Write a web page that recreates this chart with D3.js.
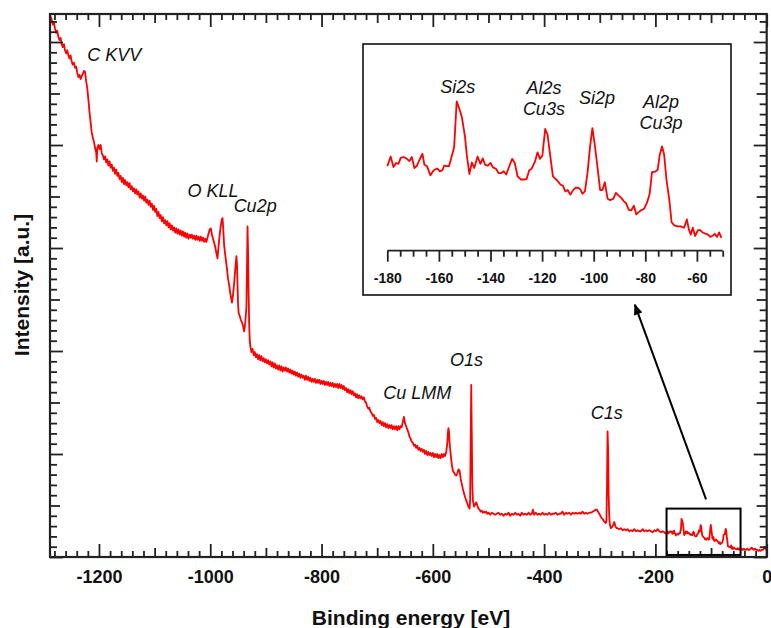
<!DOCTYPE html>
<html>
<head>
<meta charset="utf-8">
<script src="https://cdn.jsdelivr.net/npm/d3@7"></script>
<style>
  html, body { margin: 0; padding: 0; background: #ffffff; }
  svg { display: block; font-family: Arial, "Liberation Sans", Helvetica, sans-serif; }
</style>
</head>
<body>
<svg id="chart" width="771" height="628"></svg>
<script>
// XPS survey spectrum: [binding energy (eV, plotted negative), intensity (a.u.)]
const highEnergyTail = [
  [-1288,5.26],[-1285,5.22],[-1283,5.17],[-1281,5.19],[-1279,5.13],[-1277,5.09],[-1275,5.11],[-1273,5.05],
  [-1271,5.02],[-1269,5.04],[-1267,4.98],[-1265,4.95],[-1263,4.98],[-1261,4.92],[-1259,4.89],[-1257,4.92],
  [-1255,4.87],[-1253,4.84],[-1251,4.87],[-1249,4.81],[-1247,4.78],[-1245,4.80],[-1243,4.75],[-1241,4.76],
  [-1239,4.70],[-1237,4.66],[-1235,4.68],[-1233,4.64],[-1231,4.67],[-1229,4.69],[-1227,4.72],[-1225,4.71],
  [-1223,4.62],[-1221,4.55],[-1219,4.44],[-1217,4.32],[-1215,4.22],[-1213,4.12],[-1211,4.07],[-1209,4.03],
  [-1207,3.97],[-1205,3.93],[-1204,3.84],[-1203,3.97],[-1201,4.00],[-1199,3.96],[-1197,4.00],[-1195,3.92],
  [-1193,3.90],[-1191,3.86],[-1189,3.89],[-1187,3.83],[-1185,3.86],[-1183,3.80],[-1181,3.84],[-1179,3.78],
  [-1177,3.81],[-1175,3.75],[-1173,3.78],[-1171,3.72],[-1169,3.76],[-1167,3.70],[-1165,3.73],[-1163,3.67],
  [-1161,3.70],[-1159,3.64],[-1157,3.68],[-1155,3.62],[-1153,3.66],[-1151,3.61],[-1149,3.64],[-1147,3.59],
  [-1145,3.63],[-1143,3.57],[-1141,3.60],[-1139,3.55],[-1137,3.58],[-1135,3.53],[-1133,3.57],[-1131,3.52],
  [-1129,3.55],[-1127,3.49],[-1125,3.53],[-1123,3.48],[-1121,3.51],[-1119,3.46],[-1117,3.50],[-1115,3.44],
  [-1113,3.47],[-1111,3.42],[-1109,3.46],[-1107,3.40],[-1105,3.43],[-1103,3.37],[-1101,3.41],[-1099,3.35],
  [-1097,3.38],[-1095,3.31],[-1093,3.35],[-1091,3.29],[-1089,3.32],[-1087,3.26],[-1085,3.30],[-1083,3.24],
  [-1081,3.27],[-1079,3.22],[-1077,3.26],[-1075,3.20],[-1073,3.24],[-1071,3.18],[-1069,3.22],[-1067,3.17],
  [-1065,3.20],[-1063,3.15],[-1061,3.19],[-1059,3.14],[-1057,3.18],[-1055,3.13],[-1053,3.17],[-1051,3.12],
  [-1049,3.16],[-1047,3.11],[-1045,3.15],[-1043,3.10],[-1041,3.14],[-1039,3.09],[-1037,3.13],[-1035,3.10],
  [-1033,3.13],[-1031,3.09],[-1029,3.12],[-1027,3.08],[-1025,3.12],[-1023,3.08],[-1021,3.11],[-1019,3.07],
  [-1017,3.11],[-1015,3.07],[-1013,3.10],[-1011,3.06],[-1009,3.09],[-1007,3.06],[-1005,3.10]
];

// O KLL Auger and Cu 2p region, then the Cu 2p background plateau
const copperRegion = [
  [-1003,3.14],[-1001,3.18],[-999,3.19],[-997,3.13],[-995,3.09],[-993,3.05],[-991,3.01],[-989,2.95],
  [-987,2.90],[-985,3.02],[-983,3.13],[-981,3.22],[-979,3.28],[-978,3.29],[-977,3.22],[-975,3.02],
  [-973,2.93],[-970,2.80],[-968,2.70],[-966,2.64],[-964,2.56],[-962,2.50],[-961,2.47],[-959,2.55],
  [-957,2.66],[-955,2.80],[-953,2.92],[-952,2.85],[-951,2.65],[-950,2.45],[-949,2.37],[-947,2.34],
  [-945,2.30],[-943,2.28],[-941,2.24],[-939,2.19],[-937,2.28],[-935,2.43],[-934,2.80],[-933,3.21],
  [-932,2.95],[-931,2.53],[-930,2.25],[-929,2.10],[-928,2.05],[-926,1.99],[-924,2.02],[-922,1.96],
  [-920,1.99],[-918,1.94],[-916,1.97],[-914,1.92],[-912,1.96],[-910,1.91],[-908,1.95],[-906,1.90],
  [-904,1.93],[-902,1.89],[-900,1.92],[-898,1.88],[-896,1.91],[-894,1.87],[-892,1.90],[-890,1.85],
  [-888,1.89],[-886,1.84],[-884,1.88],[-882,1.83],[-880,1.86],[-878,1.82],[-876,1.86],[-874,1.81],
  [-872,1.85],[-870,1.80],[-868,1.84],[-866,1.81],[-864,1.84],[-862,1.80],[-860,1.83],[-858,1.79],
  [-856,1.82],[-854,1.78],[-852,1.81],[-850,1.77],[-848,1.80],[-846,1.76],[-844,1.79],[-842,1.75],
  [-840,1.78],[-838,1.74],[-836,1.77],[-834,1.74],[-832,1.76],[-830,1.72],[-828,1.76],[-826,1.72],
  [-824,1.75],[-822,1.71],[-820,1.74],[-818,1.70],[-816,1.73],[-814,1.70],[-812,1.73],[-810,1.69],
  [-808,1.72],[-806,1.69],[-804,1.72],[-802,1.68],[-800,1.71],[-798,1.68],[-796,1.71],[-794,1.67],
  [-792,1.70],[-790,1.67],[-788,1.70],[-786,1.66],[-784,1.69],[-782,1.66],[-780,1.69],[-778,1.65],
  [-776,1.68],[-774,1.65],[-772,1.68],[-770,1.64],[-768,1.68],[-766,1.64],[-764,1.67],[-762,1.63],
  [-760,1.66],[-758,1.62],[-756,1.64],[-754,1.60],[-752,1.63],[-750,1.59],[-748,1.62],[-746,1.58],
  [-744,1.61],[-742,1.57],[-740,1.59],[-738,1.55],[-736,1.58],[-734,1.54],[-732,1.57],[-730,1.54],
  [-728,1.56],[-726,1.53],[-724,1.55],[-722,1.51],[-720,1.50],[-718,1.46],[-716,1.44],[-714,1.45],
  [-712,1.41],[-710,1.40],[-708,1.37],[-706,1.38],[-704,1.34],[-702,1.35],[-700,1.31],[-698,1.33],
  [-696,1.30],[-694,1.32],[-692,1.28],[-690,1.31],[-688,1.27],[-686,1.30],[-684,1.26],[-682,1.29],
  [-680,1.25],[-678,1.28],[-676,1.25],[-674,1.28],[-672,1.24],[-670,1.27],[-668,1.24],[-666,1.27],
  [-664,1.23],[-662,1.27],[-660,1.24]
];

// Cu LMM Auger structure and O 1s
const oxygenRegion = [
  [-658,1.27],[-656,1.26],[-654,1.31],[-652,1.36],[-650,1.30],[-648,1.27],[-646,1.24],[-644,1.21],
  [-642,1.17],[-640,1.15],[-638,1.12],[-636,1.11],[-634,1.08],[-632,1.09],[-630,1.06],[-628,1.08],
  [-626,1.04],[-624,1.06],[-622,1.03],[-620,1.05],[-618,1.02],[-616,1.04],[-614,1.00],[-612,1.03],
  [-610,0.99],[-608,1.02],[-606,0.99],[-604,1.01],[-602,0.98],[-600,1.01],[-598,0.97],[-596,1.00],
  [-594,0.97],[-592,1.00],[-590,0.96],[-588,0.99],[-586,0.96],[-584,1.00],[-582,0.97],[-580,1.00],
  [-578,0.98],[-576,1.02],[-574,1.10],[-573,1.20],[-572,1.25],[-571,1.22],[-570,1.12],[-568,1.00],
  [-566,0.90],[-564,0.84],[-562,0.82],[-560,0.80],[-558,0.79],[-556,0.81],[-554,0.85],[-552,0.84],
  [-550,0.76],[-548,0.71],[-546,0.66],[-544,0.62],[-542,0.58],[-540,0.55],[-538,0.52],[-536,0.49],
  [-534,0.47],[-533,0.55],[-532,1.10],[-531,1.67],[-530,1.20],[-529,0.70],[-528,0.55],[-526,0.49],
  [-524,0.51],[-522,0.53],[-520,0.50],[-518,0.47],[-516,0.46],[-514,0.44],[-512,0.45],[-510,0.43],
  [-508,0.44],[-506,0.43],[-504,0.44],[-502,0.42],[-500,0.43],[-497,0.41],[-494,0.43],[-491,0.42],
  [-488,0.41],[-485,0.42]
];

// Flat background and C 1s
const carbonRegion = [
  [-482,0.43],[-479,0.41],[-476,0.42],[-473,0.40],[-470,0.42],[-467,0.41],[-464,0.43],[-461,0.40],
  [-458,0.42],[-455,0.41],[-452,0.43],[-449,0.41],[-446,0.42],[-443,0.40],[-440,0.43],[-437,0.41],
  [-434,0.42],[-431,0.41],[-428,0.43],[-425,0.41],[-422,0.42],[-420,0.46],[-418,0.41],[-415,0.43],
  [-412,0.41],[-409,0.42],[-406,0.41],[-403,0.43],[-400,0.41],[-397,0.42],[-394,0.41],[-391,0.43],
  [-388,0.41],[-385,0.42],[-382,0.42],[-379,0.43],[-376,0.41],[-373,0.42],[-370,0.42],[-367,0.44],
  [-364,0.41],[-361,0.43],[-358,0.42],[-355,0.43],[-352,0.41],[-349,0.43],[-346,0.42],[-343,0.43],
  [-340,0.42],[-337,0.43],[-334,0.42],[-331,0.44],[-328,0.42],[-325,0.43],[-322,0.42],[-319,0.43],
  [-316,0.43],[-313,0.44],[-310,0.45],[-307,0.46],[-305,0.46],[-303,0.44],[-301,0.42],[-299,0.40],
  [-297,0.38],[-295,0.37],[-293,0.35],[-291,0.34],[-289,0.33],[-288,0.36],[-287,0.70],[-286,1.22],
  [-285,1.05],[-284,0.60],[-283,0.40],[-282,0.32],[-280,0.28],[-278,0.29],[-276,0.31],[-274,0.34],
  [-272,0.30],[-270,0.28],[-268,0.28],[-265,0.27],[-262,0.28],[-259,0.26],[-256,0.27],[-253,0.26],
  [-250,0.27],[-247,0.25],[-244,0.26],[-241,0.25],[-238,0.27],[-235,0.25],[-232,0.26],[-229,0.25],
  [-226,0.25],[-223,0.27],[-220,0.25],[-217,0.26],[-214,0.25],[-211,0.26],[-208,0.25],[-205,0.24],
  [-202,0.26],[-199,0.25],[-196,0.27],[-193,0.25],[-190,0.24],[-187,0.25],[-184,0.24],[-182,0.23]
];

// Si 2s, Al 2s / Cu 3s, Si 2p, Al 2p / Cu 3p (shown enlarged in the inset)
const shallowCoreRegion = [
  [-180.0,0.229],[-178.7,0.250],[-177.6,0.227],[-176.6,0.236],[-175.7,0.234],[-174.8,0.247],[-173.7,0.249],
  [-172.4,0.245],[-171.4,0.240],[-170.5,0.249],[-169.5,0.225],[-168.5,0.230],[-167.5,0.243],[-166.4,0.256],
  [-165.6,0.232],[-164.6,0.229],[-163.3,0.209],[-162.0,0.220],[-160.7,0.224],[-159.6,0.218],[-158.7,0.220],
  [-158.0,0.230],[-157.0,0.229],[-156.1,0.229],[-155.2,0.247],[-154.1,0.270],[-153.1,0.370],[-152.2,0.356],
  [-151.1,0.336],[-149.9,0.294],[-149.2,0.254],[-148.2,0.212],[-147.2,0.237],[-146.3,0.225],[-145.0,0.250],
  [-143.9,0.234],[-143.0,0.246],[-142.1,0.232],[-141.0,0.230],[-140.0,0.236],[-139.1,0.227],[-137.8,0.223],
  [-136.9,0.214],[-135.8,0.214],[-134.9,0.218],[-133.9,0.211],[-132.5,0.232],[-131.6,0.245],[-130.6,0.236],
  [-129.5,0.207],[-128.2,0.200],[-126.9,0.200],[-126.0,0.201],[-125.0,0.220],[-124.1,0.223],[-122.7,0.240],
  [-121.8,0.259],[-120.8,0.245],[-119.9,0.252],[-118.8,0.310],[-117.9,0.298],[-116.9,0.254],[-115.8,0.207],
  [-114.2,0.198],[-112.9,0.189],[-112.0,0.187],[-111.0,0.174],[-110.1,0.177],[-109.0,0.167],[-108.0,0.177],
  [-107.1,0.182],[-106.0,0.182],[-105.1,0.178],[-104.4,0.169],[-103.4,0.174],[-102.4,0.214],[-101.4,0.272],
  [-100.5,0.312],[-99.6,0.276],[-98.6,0.230],[-97.5,0.177],[-96.6,0.177],[-95.7,0.194],[-94.6,0.158],
  [-93.6,0.155],[-92.4,0.158],[-91.4,0.171],[-90.3,0.165],[-89.3,0.160],[-88.4,0.153],[-87.5,0.149],
  [-86.4,0.134],[-85.4,0.133],[-84.4,0.143],[-83.5,0.124],[-82.6,0.129],[-81.6,0.133],[-80.5,0.136],
  [-79.3,0.150],[-78.3,0.169],[-77.4,0.216],[-76.2,0.217],[-75.2,0.221],[-74.4,0.254],[-73.5,0.272],
  [-72.7,0.254],[-71.8,0.200],[-70.7,0.156],[-69.8,0.107],[-68.8,0.100],[-67.5,0.098],[-66.3,0.098],
  [-65.0,0.095],[-63.9,0.113],[-63.1,0.091],[-62.4,0.080],[-61.6,0.095],[-60.7,0.077],[-59.6,0.090],
  [-58.7,0.090],[-57.6,0.084],[-56.7,0.082],[-55.7,0.080],[-54.8,0.075],[-53.7,0.078],[-53.1,0.082],
  [-52.2,0.075],[-51.4,0.085],[-50.5,0.073]
];

// Valence band edge down to the Fermi level
const valenceRegion = [
  [-49,0.08],[-47,0.07],[-45,0.08],[-43,0.07],[-41,0.08],[-39,0.07],[-37,0.07],[-35,0.08],
  [-33,0.07],[-31,0.07],[-29,0.08],[-27,0.09],[-25,0.08],[-23,0.07],[-21,0.08],[-19,0.07],
  [-17,0.07],[-15,0.06],[-13,0.07],[-11,0.06],[-9,0.07],[-7,0.07],[-5,0.08],[-3,0.10],
  [-1,0.07],[0,0.07]
];

// Axis tick values
const xMajorTicks = [-1200, -1000, -800, -600, -400, -200, 0];
const xMidTicks = [-1100, -900, -700, -500, -300, -100];
const insetMajorTicks = [-180, -160, -140, -120, -100, -80, -60];

// Peak annotations: label text and anchor point (energy, intensity)
const surveyLabels = [
  { text: "C KVV",  e: -1221, i: 4.82 },
  { text: "O KLL",  e: -1041, i: 3.50 },
  { text: "Cu2p",   e: -958,  i: 3.35 },
  { text: "Cu LMM", e: -689,  i: 1.53 },
  { text: "O1s",    e: -569,  i: 1.85 },
  { text: "C1s",    e: -316,  i: 1.34 }
];
const insetLabels = [
  { lines: ["Si2s"],         e: -152.7, i: 0.389 },
  { lines: ["Al2s", "Cu3s"], e: -119.3, i: 0.386 },
  { lines: ["Si2p"],         e: -98.7,  i: 0.364 },
  { lines: ["Al2p", "Cu3p"], e: -73.9,  i: 0.355 }
];

const survey = [].concat(highEnergyTail, copperRegion, oxygenRegion, carbonRegion,
                         shallowCoreRegion, valenceRegion);
const insetRange = [-180, -50];
const insetData = survey.filter(d => d[0] >= insetRange[0] && d[0] <= insetRange[1]);

// ---------- layout ----------
const ink = "#222222";
const lineRed = "#ff0000";
const fontFamily = 'Arial, "Liberation Sans", Helvetica, sans-serif';
const plot = { left: 50, right: 766.7, top: 14, bottom: 557 };

const svg = d3.select("#chart");

const x = d3.scaleLinear().domain([-1288, 0]).range([plot.left, plot.right]);
const y = d3.scaleLinear().domain([0, 5.272]).range([plot.bottom, plot.top]);

const xMinorTicks = d3.range(-1280, 0, 20).filter(v => v % 100 !== 0);
const yMajorTicks = d3.range(0, 6);
const yMidTicks = d3.range(0, 5).map(v => v + 0.5);
const yMinorTicks = d3.range(1, 53).filter(k => k % 5 !== 0).map(k => k / 10);

function tickRow(axis, tx, ty, values, size, fmt, pad, fontSize) {
  axis.tickValues(values).tickSizeInner(size).tickSizeOuter(0)
      .tickPadding(pad || 3).tickFormat(fmt || (() => ""));
  const g = svg.append("g").attr("transform", `translate(${tx},${ty})`).call(axis);
  g.select(".domain").remove();
  g.selectAll(".tick line").attr("stroke", ink).attr("stroke-width", 1.8);
  g.selectAll(".tick text")
    .attr("fill", "#111")
    .attr("font-family", fontFamily)
    .attr("font-weight", "bold")
    .attr("font-size", fontSize || 17);
  return g;
}

// spectrum
const line = d3.line().x(d => x(d[0])).y(d => y(d[1]));
svg.append("path")
  .datum(survey)
  .attr("fill", "none")
  .attr("stroke", lineRed)
  .attr("stroke-width", 1.8)
  .attr("stroke-linejoin", "round")
  .attr("d", line);

// ticks on all four sides, pointing inward
tickRow(d3.axisBottom(x), 0, plot.bottom, xMajorTicks, -13, d => String(d), 13, 18);
tickRow(d3.axisBottom(x), 0, plot.bottom, xMidTicks, -9);
tickRow(d3.axisBottom(x), 0, plot.bottom, xMinorTicks, -6);
tickRow(d3.axisTop(x), 0, plot.top, xMajorTicks, -13);
tickRow(d3.axisTop(x), 0, plot.top, xMidTicks, -9);
tickRow(d3.axisTop(x), 0, plot.top, xMinorTicks, -6);
tickRow(d3.axisLeft(y), plot.left, 0, yMajorTicks, -13);
tickRow(d3.axisLeft(y), plot.left, 0, yMidTicks, -10);
tickRow(d3.axisLeft(y), plot.left, 0, yMinorTicks, -7);
tickRow(d3.axisRight(y), plot.right, 0, yMajorTicks, -13);
tickRow(d3.axisRight(y), plot.right, 0, yMidTicks, -10);
tickRow(d3.axisRight(y), plot.right, 0, yMinorTicks, -7);

// frame
svg.append("rect")
  .attr("x", plot.left).attr("y", plot.top)
  .attr("width", plot.right - plot.left).attr("height", plot.bottom - plot.top)
  .attr("fill", "none").attr("stroke", ink).attr("stroke-width", 2.2);

// axis titles
svg.append("text")
  .attr("x", 411).attr("y", 625)
  .attr("text-anchor", "middle")
  .attr("font-family", fontFamily).attr("font-weight", "bold").attr("font-size", 21)
  .attr("fill", "#111")
  .text("Binding energy [eV]");

svg.append("text")
  .attr("transform", "translate(28.5,285) rotate(-90)")
  .attr("text-anchor", "middle")
  .attr("font-family", fontFamily).attr("font-weight", "bold").attr("font-size", 21)
  .attr("fill", "#111")
  .text("Intensity [a.u.]");

// peak labels on the survey
svg.append("g").selectAll("text")
  .data(surveyLabels)
  .join("text")
  .attr("x", d => x(d.e)).attr("y", d => y(d.i))
  .attr("font-family", fontFamily).attr("font-style", "italic").attr("font-size", 18)
  .attr("fill", "#111")
  .text(d => d.text);

// region marker around the shallow core levels
svg.append("rect")
  .attr("x", x(-180)).attr("y", y(0.47))
  .attr("width", x(-47) - x(-180)).attr("height", y(0.02) - y(0.47))
  .attr("fill", "none").attr("stroke", "#000").attr("stroke-width", 2);

// arrow from the marked region up to the inset
svg.append("defs").append("marker")
  .attr("id", "arrowHead")
  .attr("viewBox", "0 0 12 10")
  .attr("refX", 11).attr("refY", 5)
  .attr("markerWidth", 12).attr("markerHeight", 9)
  .attr("markerUnits", "userSpaceOnUse")
  .attr("orient", "auto")
  .append("path").attr("d", "M0,0 L12,5 L0,10 Z").attr("fill", "#000");

svg.append("line")
  .attr("x1", x(-109)).attr("y1", y(0.56))
  .attr("x2", x(-237)).attr("y2", y(2.45))
  .attr("stroke", "#000").attr("stroke-width", 2)
  .attr("marker-end", "url(#arrowHead)");

// ---------- inset ----------
const inset = { left: 363, right: 731, top: 44, bottom: 295, axisY: 250.7, x0: 387.3, x1: 722.7 };
svg.append("rect")
  .attr("x", inset.left).attr("y", inset.top)
  .attr("width", inset.right - inset.left).attr("height", inset.bottom - inset.top)
  .attr("fill", "#fff").attr("stroke", "#111").attr("stroke-width", 1.6);

const ix = d3.scaleLinear().domain(insetRange).range([inset.x0, inset.x1]);
const iy = d3.scaleLinear().domain([0.045, 0.495]).range([inset.axisY, inset.top]);
const insetMinorTicks = d3.range(-175, -45, 5).filter(v => v % 20 !== 0);

svg.append("line")
  .attr("x1", inset.x0).attr("x2", inset.x1)
  .attr("y1", inset.axisY).attr("y2", inset.axisY)
  .attr("stroke", ink).attr("stroke-width", 1.8);
tickRow(d3.axisBottom(ix), 0, inset.axisY, insetMajorTicks, 11, d => String(d), 11, 14);
tickRow(d3.axisBottom(ix), 0, inset.axisY, insetMinorTicks, 6);

svg.append("path")
  .datum(insetData)
  .attr("fill", "none")
  .attr("stroke", lineRed)
  .attr("stroke-width", 1.8)
  .attr("stroke-linejoin", "round")
  .attr("d", d3.line().x(d => ix(d[0])).y(d => iy(d[1])));

const insetLabelGroups = svg.append("g").selectAll("text")
  .data(insetLabels)
  .join("text")
  .attr("text-anchor", "middle")
  .attr("font-family", fontFamily).attr("font-style", "italic").attr("font-size", 18)
  .attr("fill", "#111");
insetLabelGroups.selectAll("tspan")
  .data(d => d.lines.map((t, k) => ({ t, k, d })))
  .join("tspan")
  .attr("x", o => ix(o.d.e))
  .attr("y", o => iy(o.d.i) + o.k * 21)
  .text(o => o.t);
</script>
</body>
</html>
